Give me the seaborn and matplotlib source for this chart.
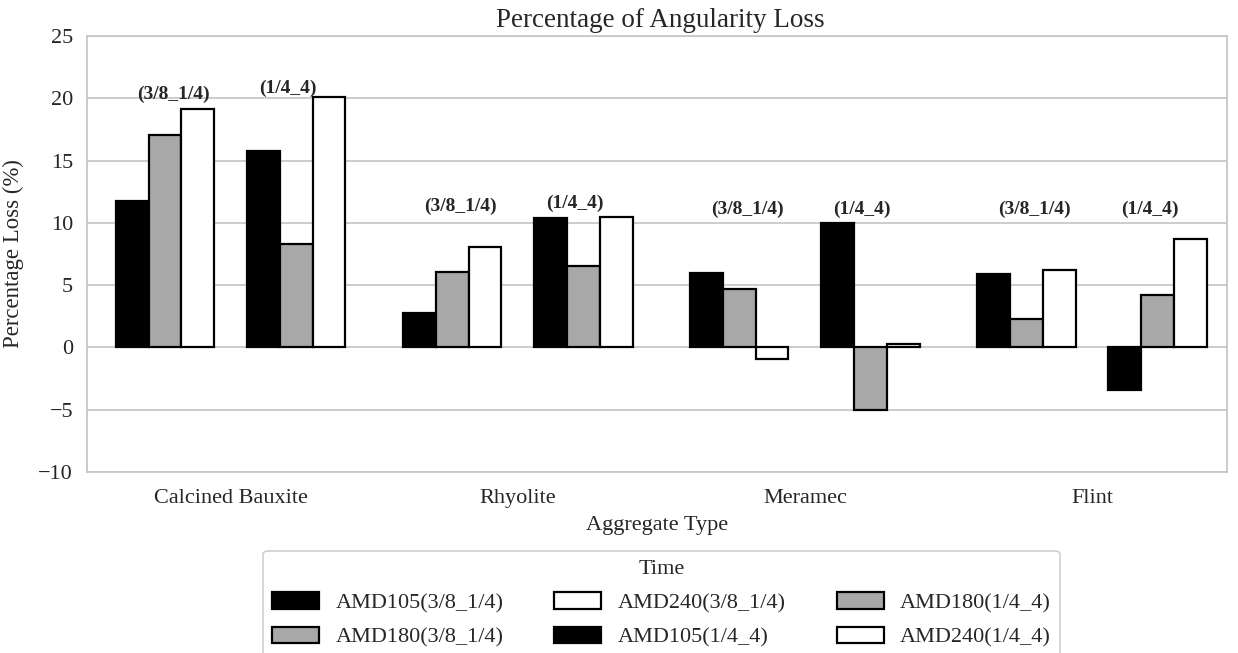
import matplotlib
matplotlib.use("Agg")
import matplotlib.pyplot as plt
import seaborn as sns
import pandas as pd
from matplotlib.patches import Patch

categories = ["Calcined Bauxite", "Rhyolite", "Meramec", "Flint"]
amd105_38 = [11.75, 2.8, 5.95, 5.87]
amd180_38 = [17.08, 6.05, 4.67, 2.27]
amd240_38 = [19.16, 8.08, -0.95, 6.19]
amd105_14 = [15.8, 10.38, 9.95, -3.4]
amd180_14 = [8.33, 6.53, -5.05, 4.22]
amd240_14 = [20.1, 10.5, 0.26, 8.72]
series_names = ["AMD105(3/8_1/4)", "AMD180(3/8_1/4)", "AMD240(3/8_1/4)",
                "AMD105(1/4_4)", "AMD180(1/4_4)", "AMD240(1/4_4)"]
group_labels = ["(3/8_1/4)", "(1/4_4)"]
label_heights = [[20.3, 20.8], [11.3, 11.6], [11.1, 11.1], [11.1, 11.1]]

series_values = [amd105_38, amd180_38, amd240_38, amd105_14, amd180_14, amd240_14]
rows = []
for name, vals in zip(series_names, series_values):
    for c, v in zip(categories, vals):
        rows.append({"Aggregate Type": c, "Time": name, "Loss": v})
df = pd.DataFrame(rows)

BLACK = "#000000"
GRAY = "#a8a8a8"
WHITE = "#ffffff"
fills = [BLACK, GRAY, WHITE, BLACK, GRAY, WHITE]
gap = "_gap_"
hue_order = series_names[:3] + [gap] + series_names[3:]
palette = {n: f for n, f in zip(series_names, fills)}
palette[gap] = WHITE

sns.set_theme(style="white")
plt.rcParams["font.family"] = ["Liberation Serif", "DejaVu Serif"]

fig = plt.figure(figsize=(12.38, 6.53), dpi=100)
ax = fig.add_axes([87/1238, 1-472/653, (1227-87)/1238, (472-36)/653])

sns.barplot(data=df, x="Aggregate Type", y="Loss", hue="Time",
            hue_order=hue_order, palette=palette, order=categories,
            errorbar=None, width=0.8, edgecolor="black", linewidth=1.6,
            saturation=1, ax=ax, legend=False, zorder=3)

ax.set_xlim(-0.5, 3.47)
ax.set_ylim(-10, 25)
ax.set_yticks(range(-10, 26, 5))
ax.set_yticklabels(["\u221210", "\u22125", "0", "5", "10", "15", "20", "25"])
ax.yaxis.grid(True, color="#c4c4c4", linewidth=1.2, zorder=0)
ax.set_axisbelow(True)
for s in ax.spines.values():
    s.set_color("#c4c4c4")
    s.set_linewidth(1.2)
ax.tick_params(axis="y", length=0, labelsize=16, pad=10)
ax.tick_params(axis="x", length=0, labelsize=16, pad=12)
ax.set_title("Percentage of Angularity Loss", fontsize=19.5, pad=6.5, x=0.503)
ax.set_xlabel("Aggregate Type", fontsize=16, labelpad=6)
ax.set_ylabel("Percentage Loss (%)", fontsize=16.4, labelpad=10)

for i, c in enumerate(categories):
    for j, lab in enumerate(group_labels):
        xo = i + (-0.2 if j == 0 else 0.2)
        ax.text(xo, label_heights[i][j], lab, ha="center", va="center",
                fontsize=14, fontweight="bold")

handles = [Patch(facecolor=f, edgecolor="black", linewidth=1.6) for f in fills]
leg = fig.legend(handles, series_names, title="Time", ncol=3,
                 loc="upper center", bbox_to_anchor=(661.5/1238, 1-551/653),
                 fontsize=16, title_fontsize=16, frameon=True,
                 handlelength=2.1, handleheight=0.78, columnspacing=2.3,
                 handletextpad=0.75, labelspacing=0.6, borderpad=0.4,
                 borderaxespad=0)
leg.get_frame().set_edgecolor("#c4c4c4")
leg.get_frame().set_linewidth(1.2)

fig.savefig("out.png", dpi=100)
